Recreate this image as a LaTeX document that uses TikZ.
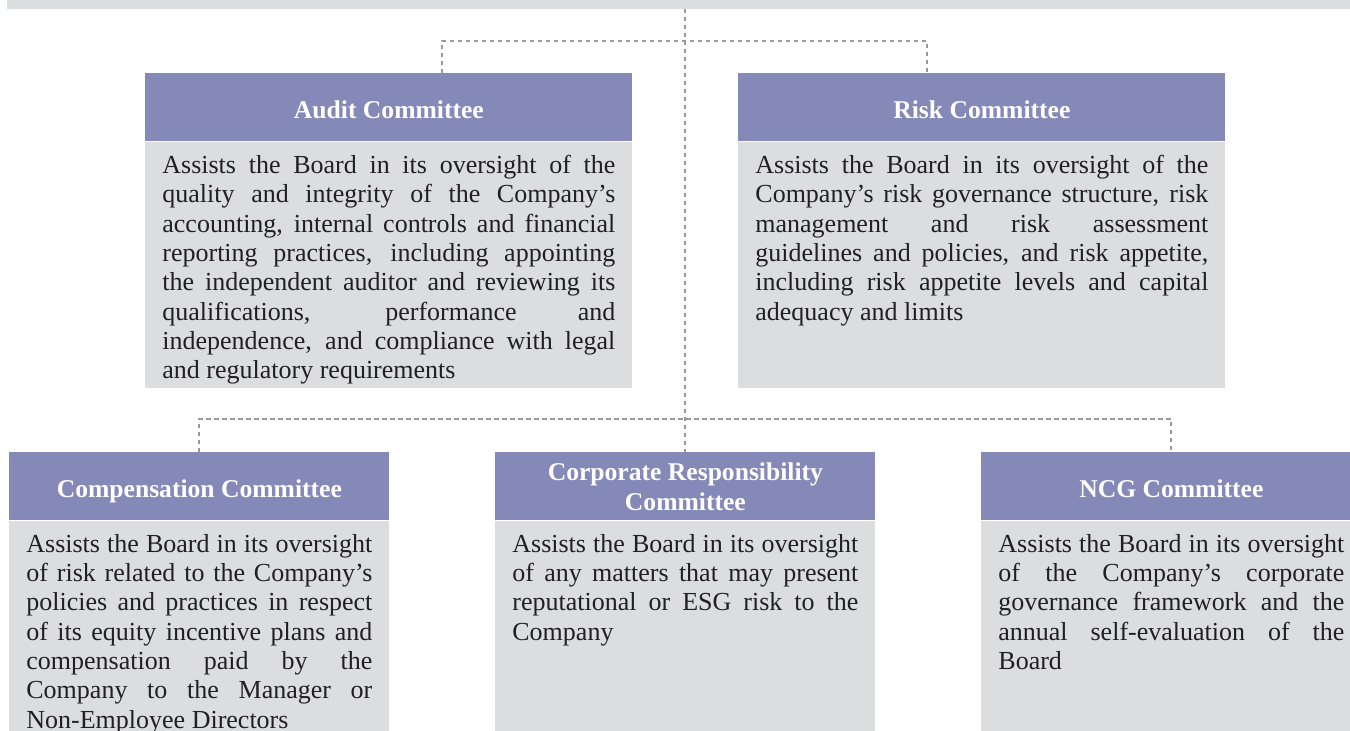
\documentclass[tikz,border=0pt]{standalone}
\usepackage{fontspec}
\setmainfont{Liberation Serif}

\definecolor{headblue}{HTML}{8489B8}
\definecolor{boxgray}{HTML}{DCDDDF}
\definecolor{linkgray}{HTML}{999999}
\definecolor{bodytext}{HTML}{231F20}

\begin{document}
\begin{tikzpicture}[x=0.5pt,y=-0.5pt,
  head/.style={fill=headblue,text=white,font=\bfseries\fontsize{12.8}{15}\selectfont,
    minimum height=34pt,inner sep=0pt,text height=11pt,text depth=0pt,
    align=center,anchor=north west},
  desc/.style={fill=boxgray,text=bodytext,font=\fontsize{13}{14.65}\selectfont,
    align=justify,inner xsep=8.5pt,inner ysep=6.5pt,anchor=north west},
  link/.style={draw=linkgray,line width=1pt,dash pattern=on 2.2pt off 1.8pt}]

\useasboundingbox (0,0) rectangle (1350,730);
\clip (0,0) rectangle (1350,730);

% board box, only its lower edge is in view
\node[fill=boxgray,minimum width=671.5pt,minimum height=20pt,inner sep=0pt,
  anchor=south west] (board) at (7,9) {};

% upper row
\node[head,minimum width=243.5pt] (audit) at (145,73) {Audit Committee};
\node[desc,text width=226.5pt,text depth=100.5pt] (audit-txt) at (audit.south west)
  {Assists the Board in its oversight of the\linebreak
   quality and integrity of the Company’s\linebreak
   accounting, internal controls and financial\linebreak
   reporting practices, including appointing\linebreak
   the independent auditor and reviewing its\linebreak
   qualifications, performance and\linebreak
   independence, and compliance with legal\linebreak
   and regulatory requirements};

\node[head,minimum width=243.5pt] (risk) at (738,73) {Risk Committee};
\node[desc,text width=226.5pt,text depth=100.5pt] (risk-txt) at (risk.south west)
  {Assists the Board in its oversight of the\linebreak
   Company’s risk governance structure, risk\linebreak
   management and risk assessment\linebreak
   guidelines and policies, and risk appetite,\linebreak
   including risk appetite levels and capital\linebreak
   adequacy and limits};

% lower row
\node[head,minimum width=190pt] (comp) at (9,452) {Compensation Committee};
\node[desc,text width=173pt,text depth=120pt] (comp-txt) at (comp.south west)
  {Assists the Board in its oversight\linebreak
   of risk related to the Company’s\linebreak
   policies and practices in respect\linebreak
   of its equity incentive plans and\linebreak
   compensation paid by the\linebreak
   Company to the Manager or\linebreak
   Non-Employee Directors};

\node[head,minimum width=190pt,text height=,text depth=] (corp) at (495,452)
  {Corporate Responsibility\\Committee};
\node[desc,text width=173pt,text depth=120pt] (corp-txt) at (corp.south west)
  {Assists the Board in its oversight\linebreak
   of any matters that may present\linebreak
   reputational or ESG risk to the\linebreak
   Company};

\node[head,minimum width=190pt] (ncg) at (981,452) {NCG Committee};
\node[desc,text width=173pt,text depth=120pt] (ncg-txt) at (ncg.south west)
  {Assists the Board in its oversight\linebreak
   of the Company’s corporate\linebreak
   governance framework and the\linebreak
   annual self-evaluation of the\linebreak
   Board};

% dashed links
\coordinate (audit-in) at (442,73);
\coordinate (risk-in) at (927,73);
\draw[link] (board.south -| corp.north) -- (corp.north);
\draw[link] (audit-in) -- ++(0,-32) -| (risk-in);
\draw[link] (comp.north) -- ++(0,-33) -| (ncg.north);

\end{tikzpicture}
\end{document}
